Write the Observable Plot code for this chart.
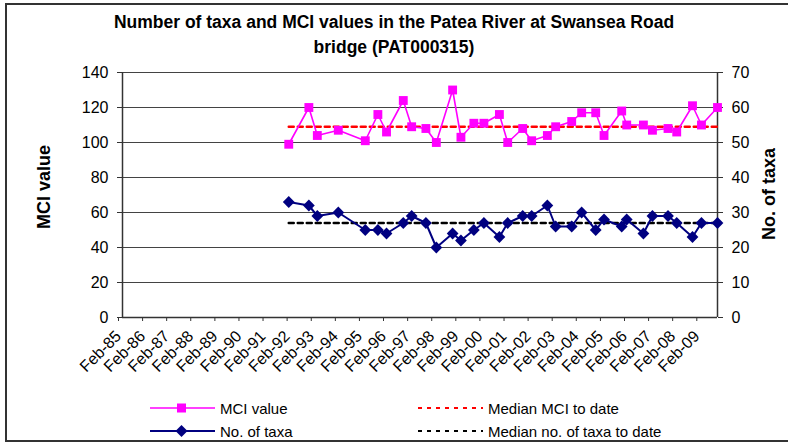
<!DOCTYPE html>
<html>
<head>
<meta charset="utf-8">
<script src="https://cdn.jsdelivr.net/npm/d3@7"></script>
<script src="https://cdn.jsdelivr.net/npm/@observablehq/plot@0.6"></script>
<style>
  body { margin: 0; background: #fff; font-family: "Liberation Sans", Arial, sans-serif; }
  #wrap { position: relative; width: 788px; height: 443px; overflow: hidden; background: #fff; }
  #border { position: absolute; left: 5px; top: 3px; width: 800px; height: 439px; border: 2px solid #333; box-sizing: border-box; pointer-events: none; }
  #title { height: 60px; width: 788px; position: relative; }
  #title div { position: absolute; left: 0; width: 788px; text-align: center; font-weight: bold; font-size: 17.5px; line-height: 17.5px; color: #000; }
  #chart svg { display: block; }
  .leg { position: absolute; display: flex; align-items: center; height: 20px; font-size: 15px; color: #000; white-space: nowrap; }
  .leg svg { display: block; margin-right: 4px; }
</style>
</head>
<body>
<div id="wrap">
  <div id="title">
    <div style="top:14px">Number of taxa and MCI values in the Patea River at Swansea Road</div>
    <div style="top:39px">bridge (PAT000315)</div>
  </div>
  <div id="chart"></div>
  <div id="legend"></div>
  <div id="border"></div>
</div>
<script>
// ---- data ----
const sampleDates = [
  "1991-12-27", "1992-10-27", "1993-03-04", "1994-01-16", "1995-03-01", "1995-09-08",
  "1996-01-17", "1996-09-27", "1997-02-01", "1997-09-05", "1998-02-10", "1998-10-15",
  "1999-02-18", "1999-09-02", "2000-02-01", "2000-09-23", "2001-01-27", "2001-09-11",
  "2002-01-25", "2002-09-20", "2003-01-24", "2003-09-24", "2004-02-22", "2004-09-22",
  "2005-01-26", "2005-10-21", "2006-01-05", "2006-09-15", "2007-01-30", "2007-09-23",
  "2008-02-02", "2008-09-28", "2009-02-11", "2009-10-12"
];
const mciValues = [
  99, 120, 104, 107, 101, 116, 106, 124, 109, 108, 100, 130,
  103, 111, 111, 116, 100, 108, 101, 104, 109, 112, 117, 117,
  104, 118, 110, 110, 107, 108, 106, 121, 110, 120
];
const taxaValues = [
  33, 32, 29, 30, 25, 25, 24, 27, 29, 27, 20, 24,
  22, 25, 27, 23, 27, 29, 29, 32, 26, 26, 30, 25,
  28, 26, 28, 24, 29, 29, 27, 23, 27, 27
];
const mciTicks = [0, 20, 40, 60, 80, 100, 120, 140];
const tickYears = [1985, 1986, 1987, 1988, 1989, 1990, 1991, 1992, 1993, 1994, 1995, 1996, 1997,
                   1998, 1999, 2000, 2001, 2002, 2003, 2004, 2005, 2006, 2007, 2008, 2009];
const tickLabels = ["Feb-85", "Feb-86", "Feb-87", "Feb-88", "Feb-89", "Feb-90", "Feb-91", "Feb-92",
                    "Feb-93", "Feb-94", "Feb-95", "Feb-96", "Feb-97", "Feb-98", "Feb-99", "Feb-00",
                    "Feb-01", "Feb-02", "Feb-03", "Feb-04", "Feb-05", "Feb-06", "Feb-07", "Feb-08", "Feb-09"];
const seriesNames = ["MCI value", "No. of taxa", "Median MCI to date", "Median no. of taxa to date"];
const axisTitles = ["MCI value", "No. of taxa"];

// ---- derived ----
const TAXA_FACTOR = 2; // right axis 0–70 shares the left 0–140 scale
const medianMCI = d3.median(mciValues);
const medianTaxa = d3.median(taxaValues);
const data = sampleDates.map((d, i) => ({date: new Date(d + "T00:00:00Z"), mci: mciValues[i], taxa: taxaValues[i]}));
const tickDates = tickYears.map(y => new Date(Date.UTC(y, 1, 1)));
const labelFor = d => tickLabels[tickYears.indexOf(d.getUTCFullYear())];

const MAGENTA = "#ff00ff", NAVY = "#000080", RED = "#ff0000", BLACK = "#000000";

const chart = Plot.plot({
  width: 788,
  height: 330,
  marginTop: 12,
  marginRight: 71,
  marginBottom: 73,
  marginLeft: 122,
  style: {fontFamily: "'Liberation Sans', Arial, sans-serif", background: "transparent", color: "#000", overflow: "visible"},
  x: {type: "utc", domain: [tickDates[0], data[data.length - 1].date]},
  y: {domain: [0, 140]},
  marks: [
    Plot.gridY(mciTicks, {stroke: "#222", strokeOpacity: 0.85, strokeWidth: 1}),
    Plot.axisY(mciTicks, {anchor: "left", tickSize: 5, tickPadding: 9, fontSize: 16, stroke: "#333", label: null}),
    Plot.axisY(mciTicks, {anchor: "right", tickSize: 5, tickPadding: 9, fontSize: 16, stroke: "#333",
                          tickFormat: d => d / TAXA_FACTOR, label: null}),
    Plot.axisX(tickDates, {anchor: "bottom", tickSize: 4, tickPadding: 12, tickRotate: -45, dx: -4,
                           fontSize: 16, stroke: "#333", tickFormat: labelFor, label: null}),
    Plot.ruleX([tickDates[0]], {stroke: "#333", strokeWidth: 1.5}),
    Plot.ruleX([data[data.length - 1].date], {stroke: "#333", strokeWidth: 1.5}),
    Plot.ruleY([0], {stroke: "#333", strokeWidth: 1.5}),
    Plot.text([axisTitles[0]], {frameAnchor: "left", textAnchor: "middle", rotate: -90, dx: -78, dy: -8,
                           fontSize: 18, fontWeight: "bold", fill: "#000"}),
    Plot.text([axisTitles[1]], {frameAnchor: "right", textAnchor: "middle", rotate: -90, dx: 52, dy: -1,
                           fontSize: 18, fontWeight: "bold", fill: "#000"}),
    // medians
    Plot.line(data, {x: "date", y: () => medianMCI, stroke: RED, strokeWidth: 2.5, strokeDasharray: "5,4"}),
    Plot.line(data, {x: "date", y: () => medianTaxa * TAXA_FACTOR, stroke: BLACK, strokeWidth: 2.5, strokeDasharray: "5,4"}),
    // taxa
    Plot.line(data, {x: "date", y: d => d.taxa * TAXA_FACTOR, stroke: NAVY, strokeWidth: 2}),
    Plot.dot(data, {x: "date", y: d => d.taxa * TAXA_FACTOR, symbol: "diamond2", r: 5.3, fill: NAVY, stroke: "none"}),
    // MCI
    Plot.line(data, {x: "date", y: "mci", stroke: MAGENTA, strokeWidth: 1.6}),
    Plot.dot(data, {x: "date", y: "mci", symbol: "square", r: 5, fill: MAGENTA, stroke: "none"})
  ]
});
document.getElementById("chart").appendChild(chart);

// ---- legend ----
const legendItems = [
  {name: seriesNames[0], left: 150, top: 398, stroke: MAGENTA, width: 1.6, dash: null, marker: "square", color: MAGENTA},
  {name: seriesNames[1], left: 150, top: 421, stroke: NAVY, width: 2, dash: null, marker: "diamond", color: NAVY},
  {name: seriesNames[2], left: 418, top: 398, stroke: RED, width: 2, dash: "4,5", marker: null},
  {name: seriesNames[3], left: 418, top: 421, stroke: BLACK, width: 2, dash: "4,5", marker: null}
];
const legend = d3.select("#legend");
for (const it of legendItems) {
  const row = legend.append("div").attr("class", "leg").style("left", it.left + "px").style("top", it.top + "px");
  const sw = row.append("svg").attr("width", 66).attr("height", 20);
  const line = sw.append("line").attr("x1", 0).attr("x2", 65).attr("y1", 10).attr("y2", 10)
    .attr("stroke", it.stroke).attr("stroke-width", it.width);
  if (it.dash) line.attr("stroke-dasharray", it.dash);
  if (it.marker === "square") sw.append("rect").attr("x", 27).attr("y", 5.5).attr("width", 9).attr("height", 9).attr("fill", it.color);
  if (it.marker === "diamond") sw.append("path").attr("d", "M31.5,4 L37.5,10 L31.5,16 L25.5,10 Z").attr("fill", it.color);
  row.append("span").text(it.name);
}
</script>
</body>
</html>
